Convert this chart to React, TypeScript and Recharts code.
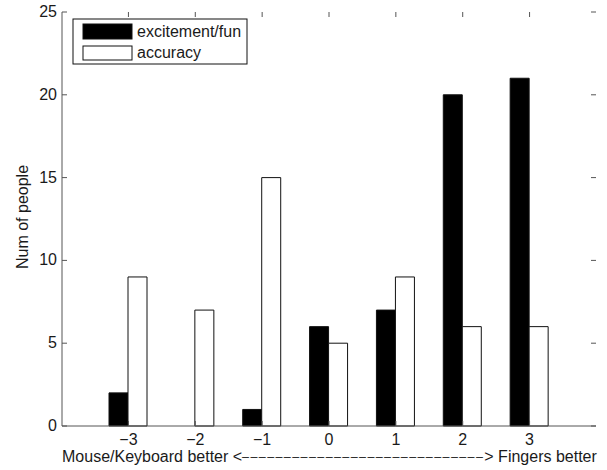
import { BarChart, Bar, XAxis, YAxis } from "recharts";

const scores = [-3, -2, -1, 0, 1, 2, 3];
const excitement = [2, 0, 1, 6, 7, 20, 21];
const accuracy = [9, 7, 15, 5, 9, 6, 6];
const yTicks = [0, 5, 10, 15, 20, 25];
const seriesNames = ["excitement/fun", "accuracy"];

const data = scores.map((s, i) => ({
  score: s,
  excitement: excitement[i],
  accuracy: accuracy[i],
}));

const FONT = "'Liberation Sans', Arial, Helvetica, sans-serif";
const AXIS = "#555";
const TEXT = "#1a1a1a";

const PLOT_LEFT = 62;
const PLOT_RIGHT = 596;
const PLOT_TOP = 12;
const PLOT_BOTTOM = 426;

const fmt = (v: number) => (v < 0 ? `\u2212${Math.abs(v)}` : `${v}`);

function XTick(props: any) {
  const { x, payload } = props;
  return (
    <g>
      <line x1={x} x2={x} y1={PLOT_BOTTOM} y2={PLOT_BOTTOM - 5} stroke={AXIS} />
      <line x1={x} x2={x} y1={PLOT_TOP} y2={PLOT_TOP + 5} stroke={AXIS} />
      <text x={x} y={445} textAnchor="middle" fontSize={16} fontFamily={FONT} fill={TEXT}>
        {fmt(payload.value)}
      </text>
    </g>
  );
}

function YTick(props: any) {
  const { y, payload } = props;
  return (
    <g>
      <line x1={PLOT_LEFT} x2={PLOT_LEFT + 5} y1={y} y2={y} stroke={AXIS} />
      <line x1={PLOT_RIGHT} x2={PLOT_RIGHT - 5} y1={y} y2={y} stroke={AXIS} />
      <text x={57} y={y + 5} textAnchor="end" fontSize={16} fontFamily={FONT} fill={TEXT}>
        {payload.value}
      </text>
    </g>
  );
}

export default function App() {
  const dashes = "\u2013".repeat(29);
  return (
    <div style={{ position: "absolute", left: 0, top: 0, background: "#fff" }}>
      <BarChart
        width={607}
        height={470}
        data={data}
        margin={{ top: 12, right: 11, bottom: 0, left: 0 }}
        barGap={0}
        barSize={19}
      >
        <XAxis
          dataKey="score"
          type="category"
          height={44}
          padding={{ left: 33, right: 33 }}
          axisLine={{ stroke: AXIS }}
          tickLine={false}
          tick={<XTick />}
          interval={0}
        />
        <XAxis
          xAxisId="top"
          dataKey="score"
          orientation="top"
          height={0}
          axisLine={{ stroke: AXIS }}
          tick={false}
          tickLine={false}
        />
        <YAxis
          domain={[0, 25]}
          ticks={yTicks}
          width={62}
          axisLine={{ stroke: AXIS }}
          tickLine={false}
          tick={<YTick />}
          interval={0}
        />
        <YAxis
          yAxisId="r"
          orientation="right"
          domain={[0, 25]}
          width={0}
          axisLine={{ stroke: AXIS }}
          tick={false}
          tickLine={false}
        />
        <Bar dataKey="excitement" name={seriesNames[0]} fill="#000" stroke="#111" isAnimationActive={false} />
        <Bar dataKey="accuracy" name={seriesNames[1]} fill="#fff" stroke="#111" isAnimationActive={false} />
        <text
          x={22}
          y={217}
          transform="rotate(-90 22 217)"
          textAnchor="middle"
          dominantBaseline="central"
          fontSize={16}
          fontFamily={FONT}
          fill={TEXT}
        >
          Num of people
        </text>
        <text x={62} y={462} fontSize={16} fontFamily={FONT} fill={TEXT}>
          <tspan>{"Mouse/Keyboard better <"}</tspan>
          <tspan fontSize={12.5} dy={-1} letterSpacing={1.4}>{dashes}</tspan>
          <tspan dy={1}>{"> Fingers better"}</tspan>
        </text>
        <g>
          <rect x={73} y={19} width={174} height={45} fill="#fff" stroke="#111" />
          <rect x={83} y={24} width={49} height={15} fill="#000" stroke="#111" />
          <rect x={83} y={46} width={49} height={14} fill="#fff" stroke="#111" />
          <text x={137} y={37} fontSize={16} fontFamily={FONT} fill={TEXT}>
            {seriesNames[0]}
          </text>
          <text x={137} y={58} fontSize={16} fontFamily={FONT} fill={TEXT}>
            {seriesNames[1]}
          </text>
        </g>
      </BarChart>
    </div>
  );
}
